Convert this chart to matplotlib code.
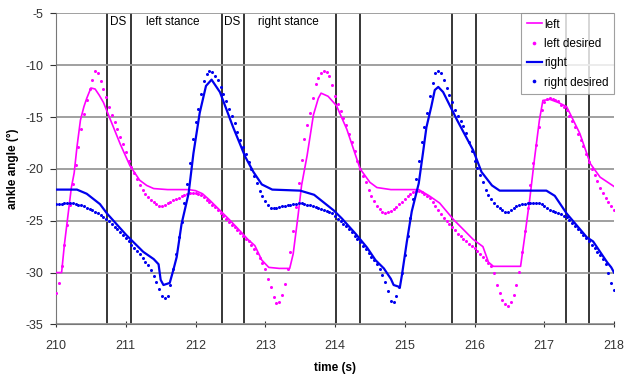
import numpy as np
import matplotlib
matplotlib.use('Agg')
import matplotlib.pyplot as plt

plt.rcParams['font.family'] = ['Liberation Sans', 'DejaVu Sans']
plt.rcParams['axes.unicode_minus'] = False

left_t = [210.00, 210.08, 210.12, 210.18, 210.22, 210.26, 210.30, 210.35, 210.40, 210.44,
          210.50, 210.56, 210.62, 210.68, 210.80, 210.92, 211.06, 211.20, 211.30, 211.40,
          211.60, 211.90, 212.00, 212.10, 212.20, 212.35, 212.50, 212.64, 212.75, 212.85,
          212.95, 213.05, 213.20, 213.35, 213.40, 213.47, 213.52, 213.60, 213.69, 213.76,
          213.80, 213.90, 214.02, 214.17, 214.36, 214.50, 214.60, 214.80, 215.00, 215.20,
          215.35, 215.50, 215.70, 215.98, 216.12, 216.20, 216.27, 216.50, 216.66, 216.72,
          216.79, 216.86, 216.93, 216.98, 217.08, 217.20, 217.32, 217.51, 217.66, 217.80,
          218.00]
left_angle = [-30.0, -30.0, -27.3, -24.0, -21.8, -20.4, -17.9, -15.3, -14.0, -13.2,
              -12.2, -12.3, -12.9, -13.6, -15.6, -17.6, -19.7, -21.1, -21.6, -21.9,
              -22.0, -22.0, -22.1, -22.4, -23.0, -24.0, -25.0, -26.0, -26.8, -27.4,
              -28.8, -29.5, -29.6, -29.6, -28.2, -24.5, -21.6, -18.7, -14.8, -13.2,
              -12.7, -13.0, -13.9, -16.2, -20.0, -21.3, -21.8, -22.0, -22.0, -22.0,
              -22.6, -23.3, -24.9, -26.8, -27.5, -29.0, -29.4, -29.4, -29.4, -26.5,
              -23.0, -19.0, -15.3, -13.4, -13.3, -13.6, -14.0, -16.6, -19.5, -20.8,
              -21.7]

right_t = [210.00, 210.30, 210.44, 210.63, 210.73, 211.01, 211.25, 211.40, 211.47, 211.50,
           211.54, 211.63, 211.68, 211.73, 211.80, 211.90, 211.97, 212.06, 212.15, 212.23,
           212.35, 212.54, 212.71, 212.83, 212.95, 213.10, 213.50, 213.70, 213.98, 214.10,
           214.30, 214.46, 214.58, 214.70, 214.80, 214.84, 214.93, 214.96, 215.03, 215.10,
           215.20, 215.26, 215.31, 215.38, 215.43, 215.48, 215.55, 215.75, 215.98, 216.10,
           216.25, 216.36, 217.03, 217.15, 217.32, 217.61, 217.70, 217.80, 217.90, 217.96,
           218.00]
right_angle = [-22.0, -22.0, -22.4, -23.4, -24.3, -26.4, -28.0, -28.7, -29.2, -30.7,
               -31.2, -31.0, -29.8, -28.5, -25.3, -22.4, -18.5, -14.6, -12.0, -11.4,
               -12.6, -16.0, -18.8, -20.3, -21.5, -22.0, -22.1, -22.5, -24.0, -24.8,
               -26.3, -27.6, -28.8, -29.6, -30.6, -31.2, -31.4, -30.2, -27.0, -24.1,
               -21.4, -18.5, -16.0, -14.0, -12.4, -12.1, -12.6, -15.3, -18.2, -20.3,
               -21.6, -22.1, -22.1, -22.6, -24.3, -26.6, -27.0, -28.0, -29.0, -29.5,
               -30.0]

# desired trajectories, one sample every 0.04 s from 210 to 218
desired_t = np.round(np.arange(210.0, 218.001, 0.04), 2)
left_desired = [
    -32.0, -31.0, -29.4, -27.3, -25.4, -23.5, -21.5, -19.6, -17.9, -16.2,
    -14.7, -13.4, -12.3, -11.4, -10.6, -10.8, -11.5, -12.3, -13.1, -14.0,
    -14.8, -15.5, -16.2, -16.9, -17.6, -18.4, -19.2, -19.8, -20.4, -21.0,
    -21.6, -22.0, -22.4, -22.7, -23.0, -23.2, -23.4, -23.55, -23.6, -23.5,
    -23.3, -23.2, -23.0, -22.9, -22.8, -22.6, -22.5, -22.4, -22.3, -22.3,
    -22.3, -22.4, -22.5, -22.7, -23.0, -23.2, -23.5, -23.7, -24.0, -24.3,
    -24.5, -24.8, -25.1, -25.4, -25.6, -25.9, -26.2, -26.5, -26.8, -27.0,
    -27.3, -27.7, -28.1, -28.6, -29.1, -29.7, -30.6, -31.4, -32.4, -32.9,
    -32.8, -32.2, -31.1, -29.7, -28.0, -26.0, -23.7, -21.4, -19.1, -17.1,
    -15.8, -14.6, -13.2, -11.8, -11.2, -10.8, -10.6, -10.7, -11.0, -11.9,
    -13.0, -13.7, -14.4, -15.1, -15.8, -16.6, -17.4, -18.3, -19.2, -20.0,
    -20.7, -21.3, -22.0, -22.6, -23.1, -23.6, -23.9, -24.2, -24.3, -24.2,
    -24.1, -23.9, -23.7, -23.4, -23.2, -22.9, -22.6, -22.4, -22.2, -22.1,
    -22.1, -22.2, -22.4, -22.6, -22.8, -23.2, -23.6, -24.0, -24.4, -24.7,
    -25.0, -25.3, -25.6, -25.9, -26.3, -26.5, -26.8, -27.0, -27.2, -27.4,
    -27.6, -27.9, -28.2, -28.5, -28.8, -29.1, -29.4, -30.0, -31.2, -32.0,
    -32.6, -33.0, -33.2, -32.8, -32.2, -31.2, -29.9, -28.0, -26.0, -23.8,
    -21.6, -19.4, -17.7, -16.0, -14.3, -13.6, -13.3, -13.2, -13.3, -13.4,
    -13.5, -13.8, -14.0, -14.3, -14.9, -15.4, -16.0, -16.6, -17.2, -17.8,
    -18.6, -19.3, -20.0, -20.6, -21.2, -21.8, -22.3, -22.8, -23.2, -23.6,
    -24.0]
right_desired = [
    -23.4, -23.4, -23.35, -23.3, -23.3, -23.3, -23.3, -23.4, -23.45, -23.5,
    -23.6, -23.75, -23.9, -24.0, -24.15, -24.3, -24.45, -24.6, -24.8, -25.0,
    -25.3, -25.6, -25.8, -26.1, -26.4, -26.7, -27.0, -27.3, -27.6, -27.9,
    -28.2, -28.6, -29.0, -29.3, -29.8, -30.3, -30.9, -31.6, -32.3, -32.5,
    -32.3, -31.2, -29.7, -28.2, -26.6, -25.1, -23.3, -21.5, -19.4, -17.1,
    -15.5, -14.2, -12.8, -11.5, -10.9, -10.6, -10.7, -11.0, -11.4, -12.1,
    -12.8, -13.5, -14.2, -14.9, -15.6, -16.4, -17.2, -17.9, -18.6, -19.3,
    -20.0, -20.7, -21.4, -22.1, -22.6, -23.1, -23.5, -23.75, -23.8, -23.8,
    -23.7, -23.6, -23.55, -23.5, -23.45, -23.4, -23.35, -23.3, -23.3, -23.4,
    -23.45, -23.5, -23.6, -23.7, -23.8, -23.9, -24.0, -24.1, -24.2, -24.3,
    -24.5, -24.8, -25.0, -25.3, -25.5, -25.8, -26.1, -26.5, -26.8, -27.1,
    -27.4, -27.7, -28.1, -28.5, -28.8, -29.2, -29.7, -30.2, -30.9, -31.8,
    -32.7, -32.8, -32.3, -31.4, -30.0, -28.3, -26.5, -24.7, -22.9, -21.0,
    -19.2, -17.4, -16.0, -14.6, -13.0, -11.7, -10.8, -10.6, -10.8, -11.4,
    -12.2, -12.9, -13.6, -14.3, -14.9, -15.4, -15.9, -16.5, -17.4, -18.3,
    -19.2, -19.9, -20.6, -21.3, -22.0, -22.5, -22.9, -23.3, -23.6, -23.8,
    -24.0, -24.2, -24.2, -24.0, -23.8, -23.6, -23.5, -23.4, -23.35, -23.3,
    -23.3, -23.3, -23.3, -23.3, -23.4, -23.6, -23.8, -24.0, -24.1, -24.2,
    -24.3, -24.4, -24.5, -24.6, -24.9, -25.2, -25.5, -25.8, -26.1, -26.4,
    -26.7, -27.0, -27.3, -27.6, -28.0, -28.3, -28.7, -29.2, -30.0, -31.0,
    -31.7]

# gait event markers (double support boundaries)
event_times = [210.73, 211.07, 212.38, 212.70, 214.01, 214.36, 215.67, 216.02, 217.31, 217.64]
phase_labels = ['DS', 'left stance', 'DS', 'right stance']
phase_label_t = [210.89, 211.67, 212.53, 213.33]

magenta = '#ff00ff'
blue = '#0000ee'

fig = plt.figure(figsize=(6.26, 3.77), dpi=100)
ax = fig.add_axes([0.0895, 0.1395, 0.8914, 0.8252])

ax.set_xlim(210, 218)
ax.set_ylim(-35, -5)
ax.set_xticks(np.arange(210, 219, 1))
ax.set_yticks(np.arange(-35, -4, 5))
ax.grid(axis='y', color='#999999', linewidth=1.3, zorder=0)

for t in event_times:
    ax.axvline(t, color='black', linewidth=1.1, zorder=1)

for t, lab in zip(phase_label_t, phase_labels):
    ax.text(t, -5.8, lab, ha='center', va='center', fontsize=8.5,
            bbox=dict(facecolor='white', edgecolor='none', pad=0.5), zorder=2)

ax.plot(left_t, left_angle, color=magenta, linewidth=1.2, label='left', zorder=3)
ax.plot(desired_t, left_desired, linestyle='none', marker='o', markersize=2.2,
        markeredgewidth=0, color=magenta, label='left desired', zorder=3)
ax.plot(right_t, right_angle, color=blue, linewidth=1.6, label='right', zorder=3)
ax.plot(desired_t, right_desired, linestyle='none', marker='o', markersize=2.2,
        markeredgewidth=0, color=blue, label='right desired', zorder=3)

ax.set_xlabel('time (s)', fontsize=8.5, fontweight='bold', labelpad=7)
ax.set_ylabel('ankle angle (\u00b0)', fontsize=8.5, fontweight='bold', labelpad=5)
ax.tick_params(axis='both', labelsize=9, colors='#333333')
ax.tick_params(axis='x', direction='inout', length=5, pad=9)
ax.tick_params(axis='y', direction='out', length=4, pad=5)

for side in ['top', 'right']:
    ax.spines[side].set_visible(False)
for side in ['left', 'bottom']:
    ax.spines[side].set_color('#777777')

leg = ax.legend(loc='upper right', fontsize=8.5, frameon=True, fancybox=False,
                borderaxespad=0.0, handlelength=1.3, handletextpad=0.2,
                labelspacing=0.62, markerscale=1.2, borderpad=0.45)
leg.get_frame().set_edgecolor('#888888')
leg.get_frame().set_linewidth(0.8)

fig.savefig('out.png', dpi=100)
